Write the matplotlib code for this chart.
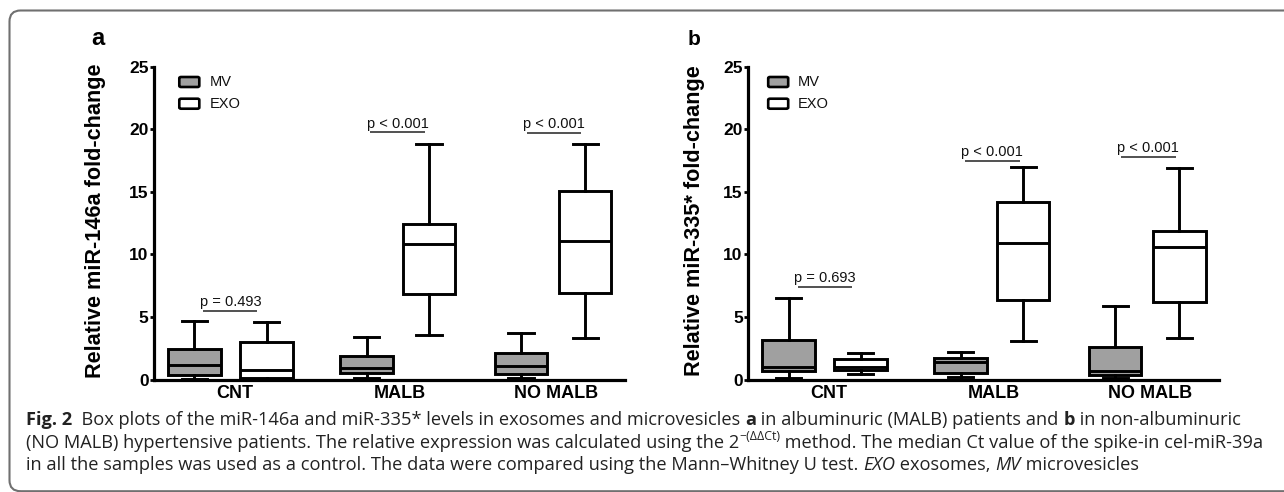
import matplotlib
matplotlib.use('Agg')
import matplotlib.pyplot as plt
from matplotlib.patches import FancyBboxPatch
from matplotlib.transforms import IdentityTransform

plt.rcParams['font.family'] = ['Liberation Sans', 'DejaVu Sans']

# ---------------- data ----------------
groups = ['CNT', 'MALB', 'NO MALB']
series = ['MV', 'EXO']
# five-number summaries: [lower whisker, Q1, median, Q3, upper whisker]
mir146a_mv = [[0.05, 0.35, 1.15, 2.45, 4.65],
              [0.10, 0.50, 0.90, 1.90, 3.40],
              [0.15, 0.40, 1.10, 2.15, 3.75]]
mir146a_exo = [[0.05, 0.15, 0.75, 3.00, 4.60],
               [3.55, 6.80, 10.80, 12.45, 18.85],
               [3.35, 6.90, 11.10, 15.10, 18.80]]
mir335_mv = [[0.08, 0.66, 0.96, 3.14, 6.55],
             [0.16, 0.53, 1.36, 1.73, 2.16],
             [0.10, 0.34, 0.65, 2.60, 5.88]]
mir335_exo = [[0.40, 0.74, 1.00, 1.60, 2.08],
              [3.09, 6.34, 10.92, 14.15, 16.95],
              [3.28, 6.20, 10.55, 11.85, 16.87]]
p_146a = ['p = 0.493', 'p < 0.001', 'p < 0.001']
p_335 = ['p = 0.693', 'p < 0.001', 'p < 0.001']
p_146a_y = [5.45, 19.75, 19.70]
p_335_y = [7.40, 17.50, 17.80]
ylab_146a = 'Relative miR-146a fold-change'
ylab_335 = 'Relative miR-335* fold-change'
yticks = [0, 5, 10, 15, 20, 25]

# ---------------- layout ----------------
W, H = 1284, 492
pos_mv = [0.261, 1.357, 2.341]
pos_exo = [0.720, 1.755, 2.750]
tick_x = [0.520, 1.568, 2.561]
br_lo = [0.318, 1.382, 2.376]
br_hi = [0.662, 1.732, 2.726]
BOXW = 0.334
CAPW = 0.16
LW = 2.1
MV_COLOR = '#a0a0a0'

fig = plt.figure(figsize=(W / 100, H / 100), dpi=100)

def px_axes(left, right, top, bottom):
    return fig.add_axes([left / W, 1 - bottom / H, (right - left) / W, (bottom - top) / H])

def stats_of(vals):
    return [dict(whislo=v[0], q1=v[1], med=v[2], q3=v[3], whishi=v[4], fliers=[]) for v in vals]

def panel(ax, mv, exo, ptxt, py, leg_dx):
    for vals, pos, fc in ((mv, pos_mv, MV_COLOR), (exo, pos_exo, 'white')):
        ax.bxp(stats_of(vals), positions=pos, widths=BOXW, capwidths=CAPW,
               patch_artist=True, showfliers=False, manage_ticks=False,
               boxprops=dict(facecolor=fc, edgecolor='black', linewidth=LW),
               medianprops=dict(color='black', linewidth=LW),
               whiskerprops=dict(color='black', linewidth=LW),
               capprops=dict(color='black', linewidth=LW))
    for lo, hi, y, t in zip(br_lo, br_hi, py, ptxt):
        ax.plot([lo, hi], [y, y], color='#222222', lw=1.1, solid_capstyle='butt', clip_on=False)
        ax.annotate(t, xy=((lo + hi) / 2, y), xytext=(0, 3.5), textcoords='offset points',
                    ha='center', va='baseline', fontsize=10.5, color='#111111')
    ax.set_xlim(0, 3.0)
    ax.set_ylim(0, 25)
    ax.set_yticks(yticks)
    ax.set_xticks(tick_x)
    ax.set_xticklabels(groups, fontsize=13, fontweight='bold')
    for lbl in ax.get_yticklabels():
        lbl.set_fontsize(12.5)
        lbl.set_fontweight('bold')
    ax.tick_params(axis='y', direction='out', length=3, width=2.0, pad=0.5)
    ax.tick_params(axis='x', length=0, pad=4)
    for s in ('top', 'right'):
        ax.spines[s].set_visible(False)
    for s in ('left', 'bottom'):
        ax.spines[s].set_linewidth(2.3)
    ax.patch.set_alpha(0)
    # legend
    aw = 471.0
    ah = 312.8
    x0 = leg_dx / aw
    sw = 20 / aw
    sh = 10 / ah
    for i, (name, fc) in enumerate(zip(series, [MV_COLOR, 'white'])):
        yc = 1 - (82 + i * 21.7 - 66.7) / ah
        ax.add_patch(FancyBboxPatch((x0, yc - sh / 2), sw, sh, boxstyle='round,pad=0,rounding_size=0.004',
                                    transform=ax.transAxes, facecolor=fc, edgecolor='black',
                                    linewidth=1.9, clip_on=False))
        ax.text(x0 + (30 / aw), yc, name, transform=ax.transAxes, ha='left', va='center',
                fontsize=10.5, color='#111111')

axA = px_axes(153.5, 624.5, 66.7, 379.5)
axB = px_axes(747.6, 1218.6, 66.7, 379.5)
panel(axA, mir146a_mv, mir146a_exo, p_146a, p_146a_y, 25.8)
panel(axB, mir335_mv, mir335_exo, p_335, p_335_y, 20.6)

fig.text(95.5 / W, 1 - 221 / H, ylab_146a, rotation=90, ha='center', va='center',
         fontsize=15.6, fontweight='bold')
fig.text(694.5 / W, 1 - 221 / H, ylab_335, rotation=90, ha='center', va='center',
         fontsize=15.6, fontweight='bold')
fig.text(91 / W, 1 - 45 / H, 'a', fontsize=17, fontweight='bold', va='baseline', ha='left')
fig.text(688 / W, 1 - 45 / H, 'b', fontsize=15, fontweight='bold', va='baseline', ha='left')

# border
border = FancyBboxPatch((9.5, 0.8), 1400, 492 - 10.5 - 0.8,
                        boxstyle='round,pad=0,rounding_size=11', transform=IdentityTransform(),
                        facecolor='none', edgecolor='#707070', linewidth=1.5)
fig.patches.append(border)

# caption
CAP_FAM = ['Open Sans', 'DejaVu Sans']
cap_lines = [
    [('Fig. 2', 'bold', 'normal', False), ('  Box plots of the miR-146a and miR-335* levels in exosomes and microvesicles ', 'normal', 'normal', False),
     ('a', 'bold', 'normal', False), (' in albuminuric (MALB) patients and ', 'normal', 'normal', False),
     ('b', 'bold', 'normal', False), (' in non-albuminuric', 'normal', 'normal', False)],
    [('(NO MALB) hypertensive patients. The relative expression was calculated using the 2', 'normal', 'normal', False),
     ('\u2212(\u0394\u0394Ct)', 'normal', 'normal', True),
     (' method. The median Ct value of the spike-in cel-miR-39a', 'normal', 'normal', False)],
    [('in all the samples was used as a control. The data were compared using the Mann\u2013Whitney U test. ', 'normal', 'normal', False),
     ('EXO', 'normal', 'italic', False), (' exosomes, ', 'normal', 'normal', False),
     ('MV', 'normal', 'italic', False), (' microvesicles', 'normal', 'normal', False)],
]
baselines = [425, 447.5, 470]
renderer = fig.canvas.get_renderer()

def seg_width(s, size, weight, style):
    t1 = fig.text(0, 0, '|' + s + '|', fontsize=size, fontweight=weight, fontstyle=style, family=CAP_FAM)
    t2 = fig.text(0, 0, '||', fontsize=size, fontweight=weight, fontstyle=style, family=CAP_FAM)
    w = t1.get_window_extent(renderer).width - t2.get_window_extent(renderer).width
    t1.remove(); t2.remove()
    return w

def line_width(line, size):
    tot = 0
    for s, wgt, sty, sup in line:
        tot += seg_width(s, size * (0.68 if sup else 1), wgt, sty)
    return tot

base_size = 10.0
w0 = line_width(cap_lines[0], base_size)
cap_size = base_size * (1247 - 26) / w0

for line, bl in zip(cap_lines, baselines):
    x = 26.0
    for s, wgt, sty, sup in line:
        sz = cap_size * (0.68 if sup else 1)
        y = (H - bl) + (cap_size * 100 / 72 * 0.42 if sup else 0)
        fig.text(x / W, y / H, s, fontsize=sz, fontweight=wgt, fontstyle=sty, family=CAP_FAM,
                 ha='left', va='baseline', color='#222222')
        x += seg_width(s, sz, wgt, sty)

fig.savefig('out.png', dpi=100)
